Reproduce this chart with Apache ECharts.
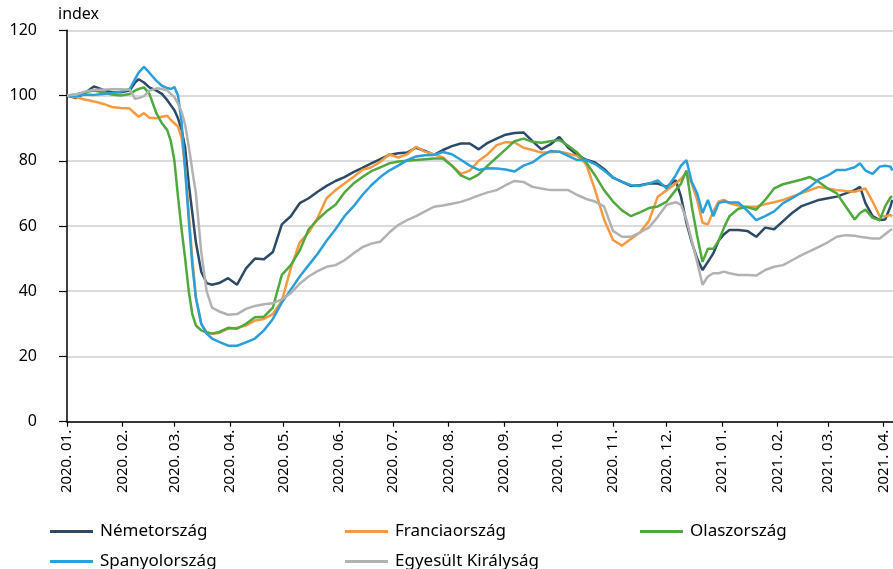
<!DOCTYPE html>
<html><head><meta charset="utf-8">
<script src="https://cdn.jsdelivr.net/npm/echarts@6/dist/echarts.min.js"></script>
<style>html,body{margin:0;padding:0;background:#fff}#c{width:893px;height:569px}</style>
</head><body><div id="c"></div>
<script>
// day offsets from 2020-01-01
const dayOffsets = [0,5,10,15,20,25,30,35, 38,40,43,46, 50,53,56,58,60,62,64,66,68,70,72, 75,78,81,85,
 90,95,100,105,110,115,120,125,130,135,140, 145,150,155,160,165,170,175,180,185,190,
 195,200,205,210,215,220,225,230,235,240, 245,250,255,260,265,270,275,280,285,290,
 295,300,305,310,315,320,325,330,335,340, 343,346,349,352,355,358,361,364,367,
 370,375,380,385,390,395,400,405,410,415,420,425,430,435,440, 443,446,450,454,457,460,461];

const nemetorszag = [100,99.2,100.8,102.8,101.8,101,101,101.5, 104,105,104,102.5,
 101.5,100.5,98.6,97,95.5,93,89.5,84,73,64,55, 46,42.5,42,42.5,
 44,42,47,50,49.8,52,60.5,63,67,68.5,70.5, 72.3,73.8,75,76.5,77.8,79.2,80.5,81.8,82.3,82.5,
 84,83,81.8,83.3,84.5,85.3,85.3,83.5,85.5,86.8, 88,88.5,88.7,86,83.5,85,87.3,84,81.8,80.3,
 79.5,77.5,74.8,73.5,72.3,72.5,73,73,72,74, 69,61,55,50,46.5,49,51.6,55.5,57.5,
 58.8,58.8,58.5,56.7,59.5,59,61.5,64,66,67,68,68.5,69,70,71, 72,67,63,61.8,62,66,68];

const franciaorszag = [100,99.5,98.8,98.2,97.5,96.5,96.2,96, 94.5,93.5,94.6,93.2,
 93,93.5,93.8,92.5,91.5,90.5,87,78,64,50,38, 30,27.5,27,27.2,
 28.5,28.8,29.5,31,31.5,33,37,47,55,58,62.5, 68.5,71,73,75,77.2,78,79.7,82,81,82,
 84.3,82.8,82,81,78.5,76,77,80,82,84.8, 85.7,85.6,84,83.3,82.5,82.6,82.8,82.2,81.5,79,
 71,62,55.7,54,56,58,61.5,69,71,73, 74.5,76.5,73,68,61,60.5,64.5,67.5,68,
 67,66.3,65.9,65.9,66.7,67.3,68,69,70,71,72,71.5,71,70.7,70.5, 71,71.5,67.5,63,63,63.4,63];

const olaszorszag = [100,100.3,101,101.5,101,100.3,100,100.5, 101.5,102,102.5,100.5,
 94.5,91.5,89.4,86,80,69,59,50,40,33,29.5, 28,27.3,27,27.5,
 28.8,28.5,30,32,32.2,35,45,48,52.5,59,62, 64.5,66.5,70.3,73,75,76.8,78,79.2,79.8,80,
 80.2,80.5,80.7,80.7,78.5,75.5,74.3,75.8,78.5,81, 83.5,86,86.8,85.8,85.5,86,86.4,84.6,82.5,79.5,
 75.5,71,67.5,64.8,63,64.2,65.5,66,67.5,71, 73,77,66,57,49,53,53,55.5,59.5,
 63,65.3,65.8,65,68,71.5,72.8,73.5,74.2,75,73.5,71.5,70,66,62, 64,65,62.5,61.8,66,68.8,69];

const spanyolorszag = [100,99.8,100.3,100.2,100.5,100.8,101.2,102, 105,107,108.8,107,
 104.5,103,102.3,102,102.6,100,92,77,62,48,38, 30,27,25.5,24.5,
 23.3,23.3,24.3,25.5,28,31.5,36.5,40.5,44.5,48,51.5, 55.5,59,63,66,69.5,72.5,75,77,78.5,80.2,
 81.3,81.7,81.8,82.7,82,80.3,78.5,77.2,77.7,77.6, 77.3,76.7,78.5,79.5,81.5,83,82.8,81.5,80.2,80.2,
 79,77,74.8,73.6,72.5,72.3,73,74,71.5,75.5, 78.5,80.2,73.5,70,64,68,63,67,67.5,
 67.2,67.2,64.7,61.8,63,64.5,67,68.5,70.2,72,74.3,75.5,77.2,77.2,78, 79.2,77,76,78.2,78.5,78.2,77];

const egyesultKiralysag = [100,100.3,101.2,101.8,101.8,101.9,101.9,101.8, 99,99.2,99.8,101.5,
 102.2,102,101.6,100.5,99.5,97.5,95,91,84.5,77,70, 52,40,35,33.8,
 32.8,33,34.6,35.5,36,36.3,37.5,39.4,42.3,44.5,46.2, 47.5,48,49.5,51.6,53.5,54.6,55.2,58,60.3,61.8,
 63,64.5,65.9,66.3,66.8,67.4,68.3,69.4,70.3,71, 72.5,73.8,73.5,72,71.5,71,71,71,69.5,68.3,
 67.5,66,58.5,56.7,56.7,58,59.5,62.8,66.5,67.3, 66.5,62,55.5,49,42,44.5,45.5,45.5,46,
 45.5,45,45,44.8,46.5,47.5,48,49.5,51,52.3,53.6,55,56.7,57.2,57, 56.7,56.5,56.2,56.2,57.5,58.8,59];

const seriesNames = ['Németország','Franciaország','Olaszország','Spanyolország','Egyesült Királyság'];
const seriesValues = [nemetorszag, franciaorszag, olaszorszag, spanyolorszag, egyesultKiralysag];
const seriesColors = ['#2d4a67','#f7993f','#4fa93f','#2a9fd9','#b2b2b2'];
const yMin = 0, yMax = 120, yStep = 20;
const yAxisTitle = 'index';

const FONT = '"Noto Sans", sans-serif';
const DAY = 864e5;
const t0 = new Date(2020,0,1).getTime();
const toTime = d => new Date(2020,0,1+d).getTime();

const legendPos = [[50,523],[345,523],[640,523],[50,553],[345,553]];

const chart = echarts.init(document.getElementById('c'), null, {renderer:'canvas'});
chart.setOption({
  animation: false,
  backgroundColor: '#fff',
  textStyle: {fontFamily: FONT},
  grid: {left: 67, right: 0, top: 30.3, bottom: 147.3, containLabel: false},
  xAxis: {
    type: 'time',
    min: t0,
    max: t0 + 461.4*DAY,
    minInterval: 28*DAY,
    maxInterval: 31*DAY,
    axisLine: {show: true, lineStyle: {color: '#000', width: 1.5}},
    axisTick: {show: true, length: 5, lineStyle: {color: '#000', width: 1.2}},
    axisLabel: {rotate: 90, fontSize: 15, color: '#000', margin: 8, fontFamily: FONT,
      formatter: '{yyyy}. {MM}.', showMinLabel: true, showMaxLabel: false, hideOverlap: false},
    splitLine: {show: false}
  },
  yAxis: {
    type: 'value', min: yMin, max: yMax, interval: yStep,
    axisLine: {show: true, lineStyle: {color: '#000', width: 1.5}},
    axisTick: {show: true, length: 8, lineStyle: {color: '#000', width: 1.2}},
    axisLabel: {fontSize: 16, color: '#000', margin: 30, fontFamily: FONT},
    splitLine: {show: true, lineStyle: {color: '#cfcfcf', width: 1.5}}
  },
  graphic: [{type: 'text', left: 58, top: 6, style: {text: yAxisTitle, fontSize: 16, fill: '#000', fontFamily: FONT}}],
  legend: seriesNames.map((n, i) => ({
    data: [n], left: legendPos[i][0], top: legendPos[i][1], padding: 0,
    icon: 'rect', itemWidth: 43, itemHeight: 3,
    textStyle: {fontSize: 17, color: '#000', fontFamily: FONT, padding: [0,0,0,2]}
  })),
  series: seriesNames.map((n, i) => ({
    name: n, type: 'line', showSymbol: false, symbol: 'none',
    color: seriesColors[i],
    lineStyle: {color: seriesColors[i], width: 2.5},
    data: dayOffsets.map((d, j) => [toTime(d), seriesValues[i][j]])
  }))
});
</script></body></html>
